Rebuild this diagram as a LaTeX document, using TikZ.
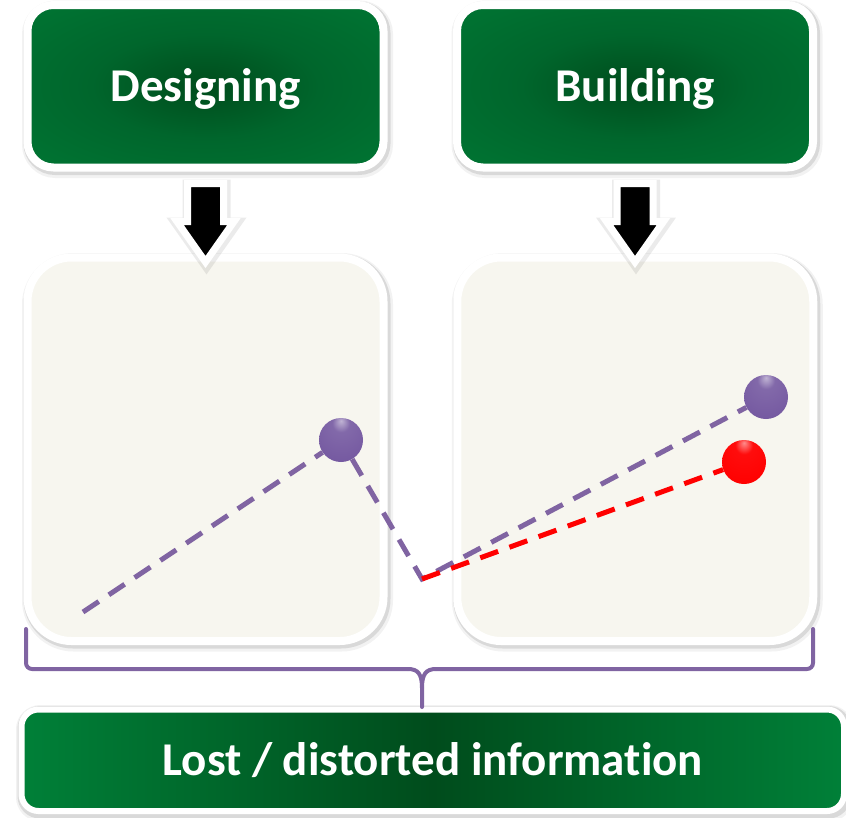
\documentclass[tikz,border=0pt]{standalone}
\usepackage{fontspec}
\setmainfont{Carlito}[Ligatures=NoCommon]
\usetikzlibrary{calc}

\definecolor{gdark}{RGB}{0,76,28}
\definecolor{gmid}{RGB}{0,102,44}
\definecolor{glight}{RGB}{0,128,56}
\definecolor{beige}{RGB}{247,246,239}
\definecolor{lilac}{RGB}{128,100,162}
\definecolor{ballpurple}{RGB}{116,88,160}
\pgfdeclareradialshading{greenglow}{\pgfpoint{0bp}{0bp}}{color(0bp)=(gdark); color(16bp)=(gmid); color(50bp)=(glight)}
\pgfdeclareradialshading{lilacsphere}{\pgfpoint{0bp}{22bp}}{color(0bp)=(ballpurple!45!white); color(10bp)=(ballpurple!90!white); color(38bp)=(ballpurple); color(60bp)=(ballpurple!75!black); color(72bp)=(ballpurple!50!black)}
\pgfdeclareradialshading{redsphere}{\pgfpoint{0bp}{22bp}}{color(0bp)=(red!45!white); color(10bp)=(red!95!white); color(38bp)=(red); color(60bp)=(red!85!black); color(72bp)=(red!60!black)}

\begin{document}
\begin{tikzpicture}[
  x=1pt,
  y=-1pt
]

  \tikzstyle{halo}=[preaction={draw=black,opacity=0.05,line width=15pt,transform canvas={xshift=2pt,yshift=-3pt}},preaction={draw=black,opacity=0.10,line width=11pt,transform canvas={xshift=1.5pt,yshift=-2pt}}]
  \tikzstyle{labeltext}=[text=white,font=\bfseries\fontsize{47}{56}\selectfont,text height=30pt,text depth=0pt]
  \tikzstyle{greenbox}=[halo,draw=white,line width=8pt,rounded corners=26pt,shading=greenglow,labeltext,minimum width=356pt,minimum height=162.5pt]
  \tikzstyle{lostbox}=[halo,draw=white,line width=6pt,rounded corners=17pt,left color=glight,right color=glight,middle color=gdark,labeltext,minimum width=822.5pt,minimum height=101.5pt]
  \tikzstyle{panel}=[halo,draw=white,line width=8pt,rounded corners=44pt,fill=beige,minimum width=356pt,minimum height=383.5pt]
  \tikzstyle{blockarrow}=[preaction={draw=black,opacity=0.08,line width=12pt,transform canvas={xshift=1pt,yshift=-2pt}},draw=white,line width=7pt,fill=black]
  \tikzstyle{ball}=[circle,inner sep=0pt,minimum size=44pt]
  \tikzstyle{purpleball}=[ball,shading=lilacsphere]
  \tikzstyle{redball}=[ball,shading=redsphere]
  \tikzstyle{lilacdash}=[draw=lilac,line width=5pt,dash pattern=on 19pt off 12pt]
  \tikzstyle{reddash}=[draw=red,line width=5pt,dash pattern=on 19pt off 12pt]
  \tikzstyle{bracket}=[draw=lilac,line width=4pt,line cap=round,line join=round]

  \useasboundingbox (0,0) rectangle (846,817);

  % boxes
  \node[greenbox] (design) at (205.5,86.25) {Designing};
  \node[greenbox] (build) at (635,86.25) {Building};

  \node[panel] (designpanel) at (205.5,449.25) {};
  \node[panel] (buildpanel) at (635.25,449.25) {};

  \node[lostbox] (lost) at (432.75,760.25) {Lost / distorted information};

  % arrows
  \coordinate (taildesign) at ([yshift=-12pt]design.south);
  \coordinate (tailbuild) at ([yshift=-12pt]build.south);
  \draw[blockarrow] ([xshift=-18pt]taildesign) -- ++(36,0) -- ++(0,38) -- ++(10.5,0) -- ++(-28.5,40.5) -- ++(-28.5,-40.5) -- ++(10.5,0) -- cycle;
  \draw[blockarrow] ([xshift=-18pt]tailbuild) -- ++(36,0) -- ++(0,38) -- ++(10.5,0) -- ++(-28.5,40.5) -- ++(-28.5,-40.5) -- ++(10.5,0) -- cycle;

  % balls
  \node[purpleball] (balldesign) at (341,440) {};
  \node[purpleball] (ballbuild) at (766,397) {};
  \node[redball] (ballred) at (744,462) {};

  \coordinate (start) at (83,612);
  \coordinate (kink) at (422,579);

  % dashed paths
  \draw[lilacdash] (start) -- (balldesign) -- (kink) -- (ballbuild);
  \draw[reddash] (kink) -- (ballred);

  % brace
  \coordinate (braceleft) at (26,629);
  \coordinate (braceright) at (813,629);
  \coordinate (bracetip) at (422,707);
  \draw[bracket,rounded corners=6pt] (braceleft) -- (26,669) -- (408,669);
  \draw[bracket] (408,669) .. controls (418,669) and (422,674) .. (422,688) -- (bracetip);
  \draw[bracket,rounded corners=6pt] (braceright) -- (813,669) -- (436,669);
  \draw[bracket] (436,669) .. controls (426,669) and (422,674) .. (422,688);

\end{tikzpicture}
\end{document}
